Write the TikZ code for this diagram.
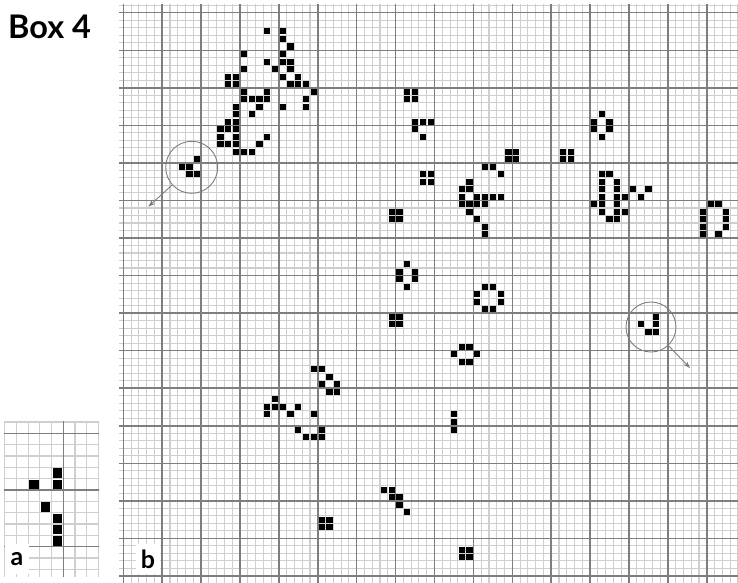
\documentclass[tikz,border=0pt]{standalone}
\usepackage{fontspec}
\setmainfont{Lato}
\usetikzlibrary{arrows.meta}

\definecolor{finegrey}{HTML}{CFCFCF}
\definecolor{boldgrey}{HTML}{7E7E7E}

\tikzset{
  minorline/.style={finegrey, line width=1.1pt},
  majorline/.style={boldgrey, line width=1.5pt},
  live/.style={fill=black},
  lens/.style={circle, draw=boldgrey, line width=0.9pt, minimum size=#1, inner sep=0pt},
  pointer/.style={boldgrey, line width=0.9pt, -{Stealth[length=7pt, width=5pt]}},
  tag/.style={fill=white, inner sep=0pt, minimum width=24pt, minimum height=30pt, font=\bfseries\fontsize{25}{25}\selectfont}
}

\begin{document}
\begin{tikzpicture}[x=1pt, y=-1pt]
\useasboundingbox (0,0) rectangle (738,582);

% title
\node[anchor=base west, inner sep=0pt, font=\bfseries\fontsize{32.5}{32.5}\selectfont] (title) at (8,38) {Box 4};

% panel a: close-up
\begin{scope}
  \clip (4,421) rectangle (99,576);
  \begin{scope}[shift={(63.3,490)}, x=11.7pt, y=-11.33pt]
    \foreach \c in {-5,...,3} \draw[minorline] (\c,-6.2) -- (\c,8);
    \foreach \r in {-6,...,8} \draw[minorline] (-5.2,\r) -- (3.2,\r);
    \draw[majorline] (0,-6.2) -- (0,8);
    \foreach \r in {-5,0,5} \draw[majorline] (-5.2,\r) -- (3.2,\r);
    \foreach \c/\r in {-1/-2,-3/-1,-1/-1,-2/1,-1/2,-1/3,-1/4}
      \fill[live] (\c+0.1,\r+0.1) rectangle (\c+0.9,\r+0.9);
  \end{scope}
\end{scope}

% panel b: the board
\begin{scope}
  \clip (119,4) rectangle (738,582);
  \begin{scope}[shift={(123.3,12.7)}, x=7.78pt, y=-7.51pt]
    \foreach \c in {0,...,79} \draw[minorline] (\c,-1.5) -- (\c,77);
    \foreach \r in {-1,...,76} \draw[minorline] (-1,\r) -- (80,\r);
    \foreach \c in {0,5,...,75} \draw[majorline] (\c,-1.5) -- (\c,77);
    \foreach \r in {0,5,...,75} \draw[majorline] (-1,\r) -- (80,\r);
    % live cells
    \foreach \c/\r in {
      18/2,20/2,20/3,21/4,15/5,20/5,18/6,20/6,21/6,15/7,19/7,21/7,
      13/8,14/8,20/8,22/8,13/9,14/9,21/9,22/9,23/9,15/10,18/10,24/10,
      15/11,16/11,17/11,18/11,23/11,14/12,17/12,20/12,23/12,14/13,16/13,
      13/14,14/14,12/15,13/15,14/15,12/16,14/16,18/16,12/17,13/17,14/17,17/17,
      14/18,15/18,16/18,
      9/19,7/20,8/20,8/21,9/21,
      36/10,37/10,36/11,37/11,
      37/14,38/14,39/14,37/15,38/16,
      49/18,50/18,49/19,50/19,
      56/18,57/18,56/19,57/19,
      38/21,39/21,38/22,39/22,
      46/20,47/20,48/21,44/22,43/23,44/23,43/24,45/24,46/24,47/24,48/24,
      43/25,44/25,45/25,46/25,44/26,45/27,46/28,46/29,
      34/26,35/26,34/27,35/27,
      61/13,60/14,62/14,60/15,62/15,61/16,
      61/21,62/21,61/22,63/22,61/23,63/23,65/23,67/23,61/24,63/24,64/24,66/24,
      60/25,61/25,63/25,61/26,63/26,64/26,62/27,63/27,
      75/25,76/25,74/26,77/26,74/27,77/27,74/28,77/28,74/29,76/29,
      36/33,35/34,37/34,35/35,37/35,36/36,
      46/36,47/36,45/37,48/37,45/38,48/38,46/39,47/39,
      34/40,35/40,34/41,35/41,
      68/40,66/41,68/41,67/42,68/42,
      43/44,44/44,42/45,45/45,43/46,44/46,
      24/47,25/47,26/48,25/49,27/49,26/50,27/50,
      19/51,18/52,19/52,20/52,22/52,18/53,21/53,24/53,22/55,25/55,23/56,24/56,25/56,
      42/53,42/54,42/55,
      33/63,34/63,34/64,35/64,35/65,36/66,
      25/67,26/67,25/68,26/68,
      43/71,44/71,43/72,44/72}
      \fill[live] (\c+0.1,\r+0.1) rectangle (\c+0.9,\r+0.9);
  \end{scope}
\end{scope}

% the two marked gliders
\node[lens=52pt] (spotA) at (191.7,167.3) {};
\coordinate (tipA) at (148.3,206.7);
\draw[pointer] (spotA.222) -- (tipA);

\node[lens=50pt] (spotB) at (651,327) {};
\coordinate (tipB) at (690,368);
\draw[pointer] (spotB.-47) -- (tipB);

% panel letters
\node[tag] (labA) at (17,559) {a};
\node[tag] (labB) at (148,559) {b};
\end{tikzpicture}
\end{document}
